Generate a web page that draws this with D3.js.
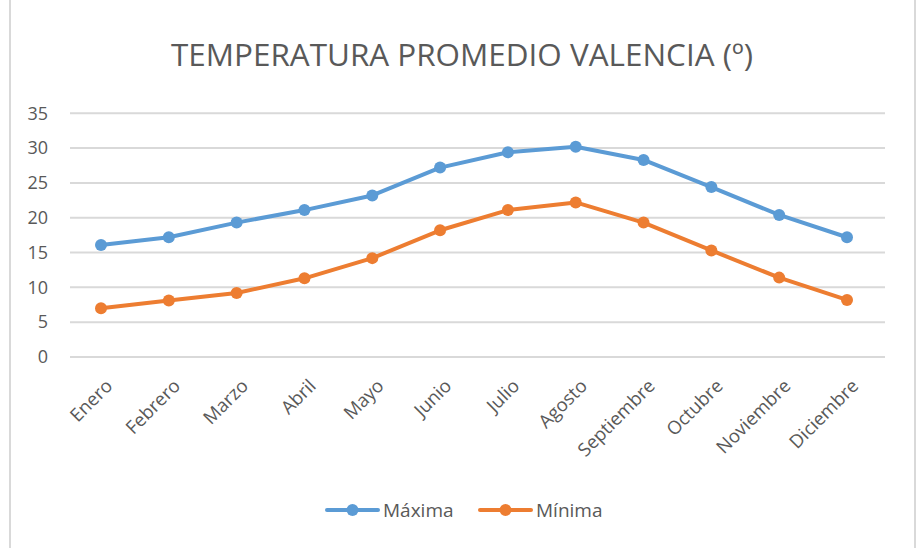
<!DOCTYPE html>
<html>
    <head>
        <script src="https://cdnjs.cloudflare.com/ajax/libs/d3/7.8.5/d3.min.js"></script>
        <title>Temperatura promedio Valencia</title>
        <style>
            html, body {
                margin: 0;
                background: white;
            }
            svg {
                display: block;
                font-family: "Open Sans", "Noto Sans", sans-serif;
            }
        </style>
    </head>
    <body>
        <svg width="920" height="548" class="chart"></svg>

        <script>
            // datos
            var meses = ["Enero", "Febrero", "Marzo", "Abril", "Mayo", "Junio",
                         "Julio", "Agosto", "Septiembre", "Octubre", "Noviembre", "Diciembre"];
            var maxima = [16.1, 17.2, 19.3, 21.1, 23.2, 27.2, 29.4, 30.2, 28.3, 24.4, 20.4, 17.2];
            var minima = [7.0, 8.1, 9.2, 11.3, 14.2, 18.2, 21.1, 22.2, 19.3, 15.3, 11.4, 8.2];
            var yTicks = [0, 5, 10, 15, 20, 25, 30, 35];

            var series = [
                { nombre: "Máxima", valores: maxima, color: "#5B9BD5" },
                { nombre: "Mínima", valores: minima, color: "#ED7D31" }
            ];

            var svg = d3.select(".chart");

            // marco
            svg.append("rect")
                .attr("x", 10).attr("y", -4)
                .attr("width", 905).attr("height", 556)
                .attr("fill", "white")
                .attr("stroke", "#d9d9d9")
                .attr("stroke-width", 2);

            var x = d3.scalePoint().domain(meses).range([101, 847]);
            var y = d3.scaleLinear().domain([0, 35]).range([357, 113.3]);

            // titulo
            svg.append("text")
                .attr("x", 462).attr("y", 66)
                .attr("text-anchor", "middle")
                .attr("fill", "#595959")
                .style("font-size", "31px")
                .attr("textLength", 582)
                .attr("lengthAdjust", "spacingAndGlyphs")
                .text("TEMPERATURA PROMEDIO VALENCIA (º)");

            // lineas de cuadricula
            svg.append("g")
                .selectAll("line")
                .data(yTicks)
                .enter()
                .append("line")
                .attr("x1", 70).attr("x2", 885)
                .attr("y1", function(d) { return y(d); })
                .attr("y2", function(d) { return y(d); })
                .attr("stroke", "#d9d9d9")
                .attr("stroke-width", 2);

            // eje y
            var yAxis = svg.append("g")
                .attr("transform", "translate(54,0)")
                .call(d3.axisLeft(y).tickValues(yTicks).tickSize(0).tickPadding(6));
            yAxis.select(".domain").remove();
            yAxis.selectAll("text")
                .attr("fill", "#595959")
                .style("font-size", "18px")
                .style("font-family", "'Open Sans', sans-serif");

            // eje x
            var xAxis = svg.append("g")
                .attr("transform", "translate(0,357)")
                .call(d3.axisBottom(x).tickSize(0));
            xAxis.select(".domain").remove();
            xAxis.selectAll("text")
                .attr("fill", "#595959")
                .style("font-size", "18.5px")
                .style("font-family", "'Open Sans', sans-serif")
                .attr("text-anchor", "end")
                .attr("dy", 0)
                .attr("transform", "translate(10,28) rotate(-45)");

            var line = d3.line()
                .x(function(d, i) { return x(meses[i]); })
                .y(function(d) { return y(d); });

            var grupos = svg.selectAll(".serie")
                .data(series)
                .enter()
                .append("g")
                .attr("class", "serie");

            grupos.append("path")
                .attr("d", function(d) { return line(d.valores); })
                .attr("fill", "none")
                .attr("stroke", function(d) { return d.color; })
                .attr("stroke-width", 4)
                .attr("stroke-linejoin", "round");

            grupos.selectAll("circle")
                .data(function(d) {
                    return d.valores.map(function(v, i) { return { v: v, i: i, color: d.color }; });
                })
                .enter()
                .append("circle")
                .attr("cx", function(d) { return x(meses[d.i]); })
                .attr("cy", function(d) { return y(d.v); })
                .attr("r", 6)
                .attr("fill", function(d) { return d.color; });

            // leyenda
            var leyenda = svg.selectAll(".leyenda")
                .data(series)
                .enter()
                .append("g")
                .attr("class", "leyenda")
                .attr("transform", function(d, i) { return "translate(" + (327 + i * 153) + ",510)"; });

            leyenda.append("line")
                .attr("x1", 0).attr("x2", 51)
                .attr("stroke", function(d) { return d.color; })
                .attr("stroke-width", 4)
                .attr("stroke-linecap", "round");

            leyenda.append("circle")
                .attr("cx", 25.5)
                .attr("r", 6)
                .attr("fill", function(d) { return d.color; });

            leyenda.append("text")
                .attr("x", 56)
                .attr("y", 7)
                .attr("fill", "#595959")
                .style("font-size", "19px")
                .text(function(d) { return d.nombre; });
        </script>
    </body>
</html>
